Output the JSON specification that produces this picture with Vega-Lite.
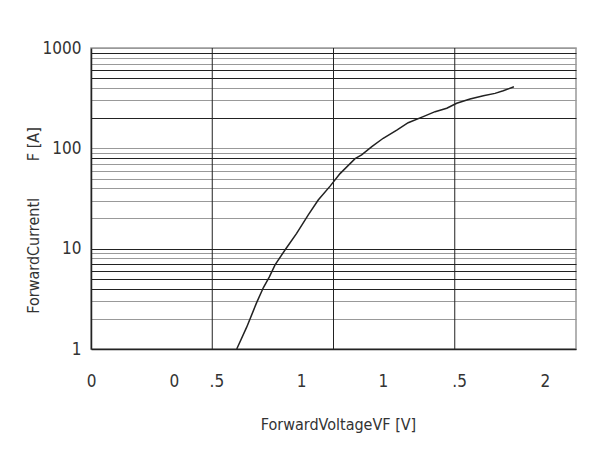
{
  "$schema": "https://vega.github.io/schema/vega-lite/v6.json",
  "width": 485,
  "height": 301,
  "autosize": {"type": "none"},
  "padding": {"left": 91, "top": 48, "right": 21, "bottom": 106},
  "background": "white",
  "config": {
    "view": {"stroke": "#999", "strokeWidth": 1.5},
    "font": "DejaVu Sans Condensed, sans-serif"
  },
  "datasets": {
    "curve": [
      {"x": 0.601, "y": 1.0},
      {"x": 0.642, "y": 1.65},
      {"x": 0.683, "y": 2.9},
      {"x": 0.711, "y": 4.1},
      {"x": 0.735, "y": 5.2},
      {"x": 0.759, "y": 6.9},
      {"x": 0.8, "y": 9.7},
      {"x": 0.848, "y": 14.2},
      {"x": 0.896, "y": 21.7},
      {"x": 0.937, "y": 30.5},
      {"x": 0.986, "y": 42},
      {"x": 1.027, "y": 56},
      {"x": 1.089, "y": 79},
      {"x": 1.116, "y": 86},
      {"x": 1.158, "y": 104},
      {"x": 1.205, "y": 126},
      {"x": 1.261, "y": 152},
      {"x": 1.308, "y": 180},
      {"x": 1.37, "y": 207},
      {"x": 1.419, "y": 232},
      {"x": 1.467, "y": 251},
      {"x": 1.508, "y": 281},
      {"x": 1.563, "y": 310},
      {"x": 1.618, "y": 335},
      {"x": 1.666, "y": 353},
      {"x": 1.7, "y": 375},
      {"x": 1.744, "y": 411}
    ],
    "vgrid": [{"x": 0.5}, {"x": 1.0}, {"x": 1.5}]
  },
  "encoding": {
    "x": {
      "field": "x",
      "type": "quantitative",
      "scale": {"domain": [0, 2], "nice": false, "zero": false},
      "axis": {
        "values": [0, 0.342, 0.517, 0.866, 1.204, 1.518, 1.872],
        "labelExpr": "datum.value < 0.1 ? '0' : datum.value < 0.4 ? '0' : datum.value < 0.6 ? '.5' : datum.value < 1.0 ? '1' : datum.value < 1.3 ? '1' : datum.value < 1.7 ? '.5' : '2'",
        "grid": false,
        "ticks": false,
        "domainColor": "#222",
        "domainWidth": 1.5,
        "labelPadding": 24,
        "labelFontSize": 17,
        "labelColor": "#333",
        "labelFlush": false,
        "labelBound": false,
        "labelOverlap": false,
        "title": "ForwardVoltageVF [V]",
        "titleFontSize": 16,
        "titleFontWeight": "normal",
        "titleColor": "#333",
        "titleBaseline": "alphabetic",
        "titleX": 247,
        "titleY": 80
      }
    }
  },
  "layer": [
    {
      "data": {"name": "vgrid"},
      "mark": {"type": "rule", "color": "#222", "strokeWidth": 1}
    },
    {
      "data": {"name": "curve"},
      "mark": {"type": "line", "color": "#222", "strokeWidth": 1.5},
      "encoding": {
        "y": {
          "field": "y",
          "type": "quantitative",
          "scale": {"type": "log", "domain": [1, 1000], "nice": false},
          "axis": {
            "values": [1, 2, 3, 4, 5, 6, 7, 8, 9, 10, 20, 30, 40, 50, 60, 70, 80, 90, 100, 200, 300, 400, 500, 600, 700, 800, 900, 1000],
            "labelExpr": "(datum.value == 1 || datum.value == 10 || datum.value == 100 || datum.value == 1000) ? format(datum.value, 'd') : ''",
            "grid": true,
            "gridColor": {"condition": {"test": "indexof([4, 5, 6, 7, 10, 80, 200, 500, 600, 900], datum.value) >= 0", "value": "#222"}, "value": "#999"},
            "gridWidth": 1.2,
            "ticks": false,
            "domainColor": "#222",
            "domainWidth": 1.5,
            "labelPadding": 10,
            "labelFontSize": 17,
            "labelColor": "#333",
            "labelOverlap": false,
            "title": "ForwardCurrentI\u00a0\u00a0\u00a0\u00a0\u00a0\u00a0\u00a0\u00a0F [A]",
            "titleFontSize": 16,
            "titleFontWeight": "normal",
            "titleColor": "#333",
            "titleBaseline": "middle",
            "titleX": -58,
            "titleY": 172
          }
        }
      }
    }
  ]
}
